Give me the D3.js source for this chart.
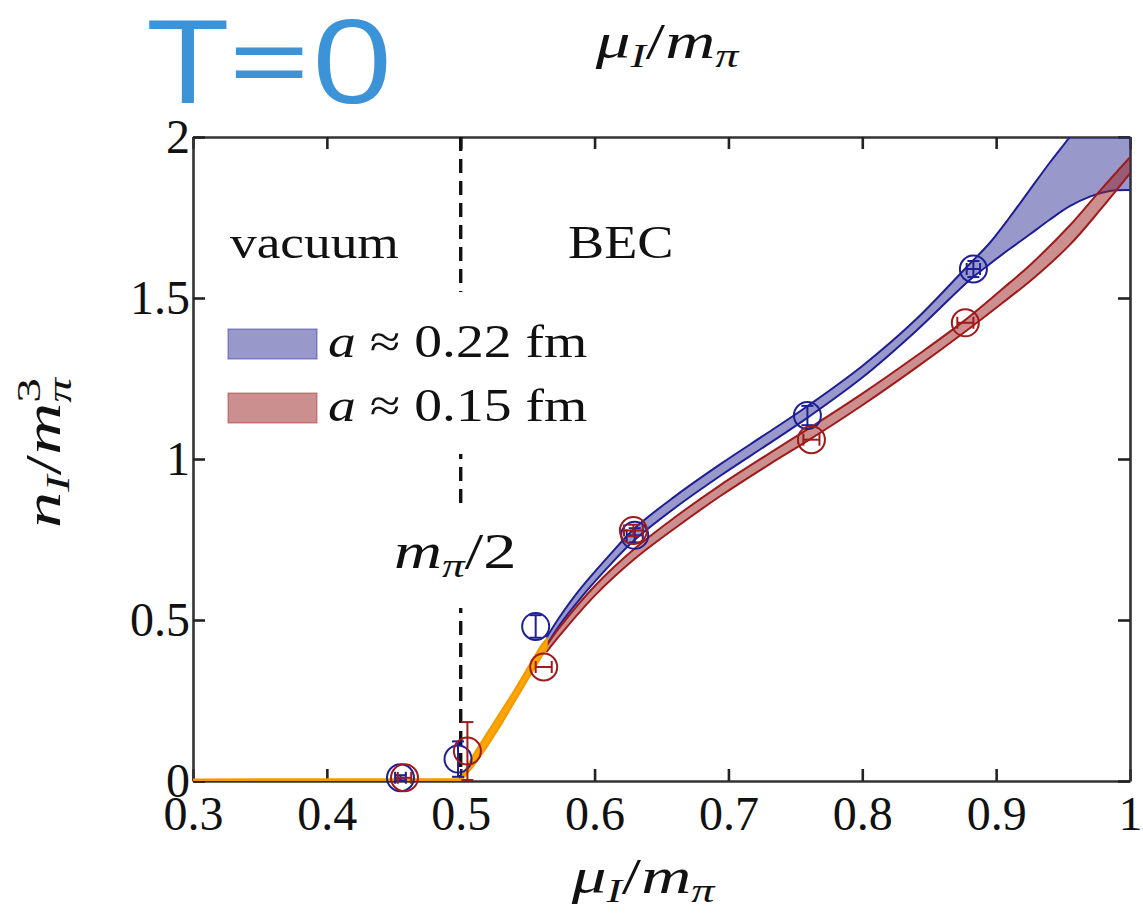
<!DOCTYPE html>
<html>
<head>
<meta charset="utf-8">
<script src="https://cdn.jsdelivr.net/npm/d3@7"></script>
<style>
  body { margin: 0; background: #fff; }
  text { font-family: "Liberation Serif", "DejaVu Serif", serif; fill: #111; }
</style>
</head>
<body>
<svg id="chart" width="1143" height="921"></svg>
<script>
// ---- axis ticks ----
const xTicks = [0.3, 0.4, 0.5, 0.6, 0.7, 0.8, 0.9, 1.0];
const xTickLabels = ["0.3", "0.4", "0.5", "0.6", "0.7", "0.8", "0.9", "1"];
const yTicks = [0, 0.5, 1, 1.5, 2];
const yTickLabels = ["0", "0.5", "1", "1.5", "2"];

// ---- threshold band (vacuum + onset of condensation) ----
const bandOnsetX  = [0.3,   0.5,   0.51,  0.52, 0.53,  0.54,  0.55,  0.56,  0.565];
const bandOnsetLo = [0.0,   0.0,   0.05,  0.11, 0.175, 0.245, 0.315, 0.385, 0.415];
const bandOnsetHi = [0.005, 0.006, 0.085, 0.15, 0.215, 0.28,  0.35,  0.42,  0.445];

// ---- spline band, a ≈ 0.22 fm ----
const band22X  = [0.564, 0.574, 0.589, 0.61,  0.63,  0.66,  0.694, 0.73,  0.76,  0.80,  0.84,  0.88,  0.895, 0.91,  0.925, 0.94,  0.955, 0.97,  0.985, 1.0];
const band22Lo = [0.42,  0.485, 0.565, 0.664, 0.749, 0.848, 0.948, 1.047, 1.131, 1.253, 1.397, 1.555, 1.605, 1.652, 1.697, 1.743, 1.785, 1.815, 1.832, 1.835];
const band22Hi = [0.445, 0.51,  0.595, 0.696, 0.785, 0.884, 0.984, 1.083, 1.167, 1.289, 1.433, 1.605, 1.67,  1.75,  1.835, 1.92,  2.0,   2.085, 2.17,  2.25];

// ---- spline band, a ≈ 0.15 fm ----
const band15X  = [0.564, 0.574, 0.60,  0.63,  0.66,  0.694, 0.73,  0.762, 0.80,  0.84,  0.877, 0.91,  0.925, 0.955, 0.978, 1.0];
const band15Lo = [0.40,  0.452, 0.575, 0.69,  0.785, 0.885, 0.982, 1.064, 1.167, 1.283, 1.396, 1.502, 1.551, 1.665, 1.775, 1.887];
const band15Hi = [0.42,  0.478, 0.605, 0.722, 0.819, 0.919, 1.016, 1.1,   1.203, 1.319, 1.432, 1.547, 1.601, 1.725, 1.835, 1.937];

// ---- lattice data points ----
const pts22X  = [0.455, 0.498, 0.556, 0.630, 0.759, 0.883];
const pts22Y  = [0.010, 0.068, 0.480, 0.763, 1.135, 1.590];
const pts22Ey = [0.008, 0.055, 0.035, 0.022, 0.030, 0.025];
const pts22Ex = [0.004, 0.000, 0.000, 0.006, 0.000, 0.005];

const pts15X  = [0.458, 0.505, 0.562, 0.629, 0.762, 0.877];
const pts15Y  = [0.010, 0.093, 0.354, 0.778, 1.060, 1.423];
const pts15Ey = [0.000, 0.090, 0.000, 0.018, 0.000, 0.000];
const pts15Ex = [0.005, 0.000, 0.006, 0.007, 0.006, 0.006];

// ---- colours ----
const blueLine = "#1e1e96", blueFill = "rgba(50,50,152,0.5)";
const redLine  = "#a01a1a", redFill  = "rgba(153,31,31,0.5)";
const orange   = "#ffa500", orangeEdge = "#f29a00";

// ---- layout ----
const svg = d3.select("#chart");
const L = 193, R = 1130, T = 137, B = 781;
const x = d3.scaleLinear().domain([0.3, 1.0]).range([L, R]);
const y = d3.scaleLinear().domain([0, 2]).range([B, T]);

svg.append("defs").append("clipPath").attr("id", "plotClip")
  .append("rect").attr("x", L).attr("y", T).attr("width", R - L).attr("height", B - T);

// helper: horizontally stretched text
function label(g, px, py, size, sx, anchor) {
  return g.append("text")
    .attr("transform", `translate(${px},${py}) scale(${sx},1)`)
    .attr("font-size", size)
    .attr("text-anchor", anchor || "start");
}

// ---- frame and axes with inward ticks ----
const tick = 12;
const axB = d3.axisBottom(x).tickValues(xTicks).tickSize(tick).tickSizeOuter(0)
  .tickFormat((d, i) => xTickLabels[i]);
const axT = d3.axisTop(x).tickValues(xTicks).tickSize(tick).tickSizeOuter(0).tickFormat("");
const axL = d3.axisLeft(y).tickValues(yTicks).tickSize(tick).tickSizeOuter(0)
  .tickFormat((d, i) => yTickLabels[i]);
const axR = d3.axisRight(y).tickValues(yTicks).tickSize(tick).tickSizeOuter(0).tickFormat("");

const gB = svg.append("g").attr("transform", `translate(0,${B})`).call(axB);
const gT = svg.append("g").attr("transform", `translate(0,${T})`).call(axT);
const gL = svg.append("g").attr("transform", `translate(${L},0)`).call(axL);
const gR = svg.append("g").attr("transform", `translate(${R},0)`).call(axR);

// flip ticks to point into the plot
gB.selectAll(".tick line").attr("y2", -tick);
gT.selectAll(".tick line").attr("y2", tick);
gL.selectAll(".tick line").attr("x2", tick);
gR.selectAll(".tick line").attr("x2", -tick);

[gB, gT, gL, gR].forEach(g => {
  g.selectAll(".domain").attr("stroke", "#333").attr("stroke-width", 2.6);
  g.selectAll(".tick line").attr("stroke", "#222").attr("stroke-width", 2.6);
});
gB.selectAll(".tick text")
  .attr("font-family", "Liberation Serif, serif").attr("font-size", 48)
  .attr("fill", "#111").attr("y", 15).attr("dy", "0.71em");
gL.selectAll(".tick text")
  .attr("font-family", "Liberation Serif, serif").attr("font-size", 48)
  .attr("fill", "#111").attr("x", -3).attr("dy", "0.33em");

// ---- phase boundary at m_pi/2 ----
svg.append("line")
  .attr("x1", x(0.5)).attr("x2", x(0.5)).attr("y1", y(2)).attr("y2", y(0))
  .attr("stroke", "#111").attr("stroke-width", 3.4).attr("stroke-dasharray", "14,8");

// ---- bands ----
const plot = svg.append("g").attr("clip-path", "url(#plotClip)");

function drawBand(xs, lo, hi, fill, stroke, curve, sw) {
  const rows = xs.map((v, i) => ({ x: v, lo: lo[i], hi: hi[i] }));
  const area = d3.area().curve(curve)
    .x(d => x(d.x)).y0(d => y(d.lo)).y1(d => y(d.hi));
  plot.append("path").datum(rows).attr("d", area)
    .attr("fill", fill).attr("stroke", "none");
  const lineLo = d3.line().curve(curve).x(d => x(d.x)).y(d => y(d.lo));
  const lineHi = d3.line().curve(curve).x(d => x(d.x)).y(d => y(d.hi));
  [lineLo, lineHi].forEach(ln =>
    plot.append("path").datum(rows).attr("d", ln)
      .attr("fill", "none").attr("stroke", stroke).attr("stroke-width", sw));
}

const smooth = d3.curveCatmullRom.alpha(0.5);
drawBand(band22X, band22Lo, band22Hi, blueFill, blueLine, smooth, 2);
drawBand(band15X, band15Lo, band15Hi, redFill, redLine, smooth, 2);
drawBand(bandOnsetX, bandOnsetLo, bandOnsetHi, orange, orangeEdge, d3.curveLinear, 2);

// ---- data points: open circles with error bars ----
function drawPoints(xs, ys, ey, ex, color) {
  const g = svg.append("g").attr("stroke", color).attr("fill", "none").attr("stroke-width", 2);
  const cap = 6;
  xs.forEach((v, i) => {
    const cx = x(v), cy = y(ys[i]);
    g.append("circle").attr("cx", cx).attr("cy", cy).attr("r", 13.5);
    if (ey[i] > 0) {
      const y0 = y(ys[i] - ey[i]), y1 = y(ys[i] + ey[i]);
      g.append("line").attr("x1", cx).attr("x2", cx).attr("y1", y0).attr("y2", y1);
      g.append("line").attr("x1", cx - cap).attr("x2", cx + cap).attr("y1", y0).attr("y2", y0);
      g.append("line").attr("x1", cx - cap).attr("x2", cx + cap).attr("y1", y1).attr("y2", y1);
    }
    if (ex[i] > 0) {
      const x0 = x(v - ex[i]), x1 = x(v + ex[i]);
      g.append("line").attr("x1", x0).attr("x2", x1).attr("y1", cy).attr("y2", cy);
      g.append("line").attr("x1", x0).attr("x2", x0).attr("y1", cy - cap).attr("y2", cy + cap);
      g.append("line").attr("x1", x1).attr("x2", x1).attr("y1", cy - cap).attr("y2", cy + cap);
    }
  });
}
drawPoints(pts22X, pts22Y, pts22Ey, pts22Ex, blueLine);
drawPoints(pts15X, pts15Y, pts15Ey, pts15Ex, redLine);

// ---- legend (white box hides the dashed line behind it) ----
const leg = svg.append("g");
leg.append("rect").attr("x", 222).attr("y", 292).attr("width", 380).attr("height", 162).attr("fill", "#fff");
const legendItems = [
  { fill: blueFill, stroke: blueLine, value: "0.22" },
  { fill: redFill,  stroke: redLine,  value: "0.15" }
];
legendItems.forEach((d, i) => {
  const yy = 329 + i * 64;
  leg.append("rect").attr("x", 228).attr("y", yy).attr("width", 89).attr("height", 30)
    .attr("fill", d.fill).attr("stroke", d.stroke).attr("stroke-opacity", 0.35).attr("stroke-width", 1.5);
  const t = label(leg, 328, yy + 28, 46, 1.21);
  t.append("tspan").attr("font-style", "italic").text("a");
  t.append("tspan").text(" \u2248 " + d.value + " fm");
});

// ---- region labels ----
label(svg, 230, 258, 46, 1.16).text("vacuum");
label(svg, 568, 258, 46, 1.18).text("BEC");

// ---- m_pi/2 label ----
svg.append("rect").attr("x", 385).attr("y", 508).attr("width", 150).attr("height", 100).attr("fill", "#fff");
{
  const t = label(svg, 394, 568, 50, 1.33);
  t.append("tspan").attr("font-style", "italic").text("m");
  t.append("tspan").attr("font-style", "italic").attr("font-size", 34).attr("dy", 9).text("\u03c0");
  t.append("tspan").attr("dy", -9).text("/2");
}

// ---- axis titles ----
function muOverM(px, py) {
  const t = label(svg, px, py, 51, 1.36, "middle");
  t.append("tspan").attr("font-style", "italic").text("\u03bc");
  t.append("tspan").attr("font-style", "italic").attr("font-size", 34).attr("dy", 9).text("I");
  t.append("tspan").attr("dy", -9).text("/");
  t.append("tspan").attr("font-style", "italic").text("m");
  t.append("tspan").attr("font-style", "italic").attr("font-size", 34).attr("dy", 9).text("\u03c0");
  return t;
}
muOverM(667, 58);
muOverM(643, 893);

{
  const t = svg.append("text")
    .attr("transform", "translate(60,453) rotate(-90) scale(1.45,1)")
    .attr("font-size", 50).attr("text-anchor", "middle");
  t.append("tspan").attr("font-style", "italic").text("n");
  t.append("tspan").attr("font-style", "italic").attr("font-size", 34).attr("dy", 9).text("I");
  t.append("tspan").attr("dy", -9).text("/");
  t.append("tspan").attr("font-style", "italic").text("m");
  t.append("tspan").attr("font-size", 34).attr("dy", -20).text("3");
  t.append("tspan").attr("font-style", "italic").attr("font-size", 34).attr("dx", -17).attr("dy", 31).text("\u03c0");
}

// ---- temperature tag ----
svg.append("text")
  .attr("transform", "translate(148,103) scale(1.25,1)")
  .attr("font-size", 116)
  .style("font-family", "'Open Sans', sans-serif")
  .style("fill", "#3d93d8")
  .text("T=0");
</script>
</body>
</html>
